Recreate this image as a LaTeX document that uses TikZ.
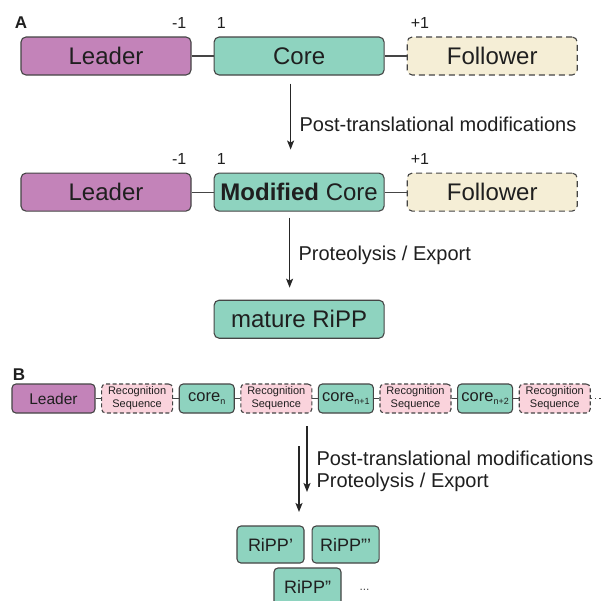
\documentclass[tikz,border=0pt]{standalone}
\usepackage{fontspec}
\setmainfont{Liberation Sans}
\usetikzlibrary{arrows.meta,positioning}
\definecolor{leaderpurple}{HTML}{C383B9}
\definecolor{coreteal}{HTML}{8ED3BF}
\definecolor{followcream}{HTML}{F5EED6}
\definecolor{recpink}{HTML}{FAD3DC}
\definecolor{boxedge}{HTML}{454545}
\newcommand{\subidx}[1]{\raisebox{-3pt}{\fontsize{9}{10}\selectfont #1}}

\begin{document}
\begin{tikzpicture}[x=1pt, y=-1pt,
  node distance=22pt,
  every node/.style={text=black!88},
  seg/.style={draw=boxedge, line width=1.1pt, rounded corners=5pt,
    minimum width=170pt, minimum height=38pt, inner sep=0pt,
    font=\fontsize{24}{28}\selectfont},
  leaderbox/.style={seg, fill=leaderpurple},
  corebox/.style={seg, fill=coreteal},
  followbox/.style={seg, fill=followcream, dash pattern=on 6pt off 4pt},
  bseg/.style={draw=boxedge, line width=1.1pt, rounded corners=4pt,
    minimum height=29pt, inner sep=0pt, align=center},
  bleaderbox/.style={bseg, fill=leaderpurple, minimum width=83pt,
    font=\fontsize{15.5}{18}\selectfont},
  bcorebox/.style={bseg, fill=coreteal, minimum width=55pt,
    font=\fontsize{16.5}{18}\selectfont},
  recbox/.style={bseg, fill=recpink, minimum width=71pt,
    dash pattern=on 4pt off 2.5pt, font=\fontsize{11}{13}\selectfont},
  rippbox/.style={bseg, fill=coreteal, minimum width=67pt,
    minimum height=37pt, font=\fontsize{18}{20}\selectfont},
  posnum/.style={font=\fontsize{16}{18}\selectfont, inner sep=0pt},
  panel/.style={font=\bfseries\fontsize{17}{20}\selectfont, inner sep=0pt},
  link/.style={draw=boxedge, line width=1.1pt},
  arr/.style={-{Stealth[length=9pt,width=7pt,inset=2pt]}, line width=1.3pt,
    draw=black!85},
  steplabel/.style={font=\fontsize{20}{22}\selectfont, anchor=west}]
\useasboundingbox[fill=white] (0,0) rectangle (601,600);
% panel A
\node[panel] (labelA) at (21,23) {A};
\node[leaderbox] (leader) at (106,56) {Leader};
\node[corebox, right=of leader] (core) {Core};
\node[followbox, right=of core] (follow) {Follower};
\node[posnum, anchor=south east] (m1) at ([xshift=-5pt,yshift=8pt]leader.north east) {-1};
\node[posnum, anchor=south west] (p1) at ([xshift=3pt,yshift=8pt]core.north west) {1};
\node[posnum, anchor=south west] (f1) at ([xshift=4pt,yshift=8pt]follow.north west) {+1};
\draw[link] (leader) -- (core);
\draw[link] (core) -- (follow);

\node[leaderbox, below=97pt of leader] (leader2) {Leader};
\node[corebox, right=of leader2] (modcore) {\textbf{Modified} Core};
\node[followbox, right=of modcore] (follow2) {Follower};
\node[posnum, anchor=south east] (m2) at ([xshift=-5pt,yshift=8pt]leader2.north east) {-1};
\node[posnum, anchor=south west] (p2) at ([xshift=3pt,yshift=8pt]modcore.north west) {1};
\node[posnum, anchor=south west] (f2) at ([xshift=4pt,yshift=8pt]follow2.north west) {+1};
\draw[link] (leader2) -- (modcore);
\draw[link] (modcore) -- (follow2);

\node[corebox, below=88pt of modcore] (mature) {mature RiPP};

\draw[arr, shorten <=8pt, shorten >=23pt] ([xshift=-8.5pt]core.south) -- ([xshift=-8.5pt]modcore.north)
  node[steplabel, midway, right=5pt] (ptmA) {Post-translational modifications};
\draw[arr, shorten <=6pt, shorten >=12pt] ([xshift=-9.5pt]modcore.south) -- ([xshift=-9.5pt]mature.north)
  node[steplabel, midway, right=5pt] (protA) {Proteolysis / Export};

% panel B
\node[panel] (labelB) at (19,375) {B};
\node[bleaderbox] (bleader) at (53.5,398.5) {Leader};
\node[recbox, right=5.5pt of bleader] (rec1) {Recognition\\Sequence};
\node[bcorebox, right=5.5pt of rec1] (core1) {core\subidx{n}};
\node[recbox, right=5.5pt of core1] (rec2) {Recognition\\Sequence};
\node[bcorebox, right=5.5pt of rec2] (core2) {core\subidx{n+1}};
\node[recbox, right=5.5pt of core2] (rec3) {Recognition\\Sequence};
\node[bcorebox, right=5.5pt of rec3] (core3) {core\subidx{n+2}};
\node[recbox, right=5.5pt of core3] (rec4) {Recognition\\Sequence};
\coordinate (ellip) at (601,398.5);
\foreach \src/\dst in {bleader/rec1, rec1/core1, core1/rec2, rec2/core2,
                       core2/rec3, rec3/core3, core3/rec4} {
  \draw[link] (\src) -- (\dst);}
\draw[link, dash pattern=on 1.3pt off 3pt] (rec4) -- (ellip);

\coordinate (ptmtop) at (307,426);
\coordinate (ptmend) at (307,492);
\coordinate (protop) at (299,446);
\coordinate (proend) at (299,512);
\draw[arr] (ptmtop) -- (ptmend);
\draw[arr] (protop) -- (proend);
\node[steplabel] (ptmB) at (313,458) {Post-translational modifications};
\node[steplabel] (protB) at (313,482) {Proteolysis / Export};

\node[rippbox] (ripp1) at (270.5,544.5) {RiPP'};
\node[rippbox, right=7pt of ripp1] (ripp3) {RiPP'''};
\node[rippbox] (ripp2) at (307.5,586.5) {RiPP''};
\node[font=\fontsize{12}{14}\selectfont, text=black!70] (more) at (364.5,590) {...};
\end{tikzpicture}
\end{document}
